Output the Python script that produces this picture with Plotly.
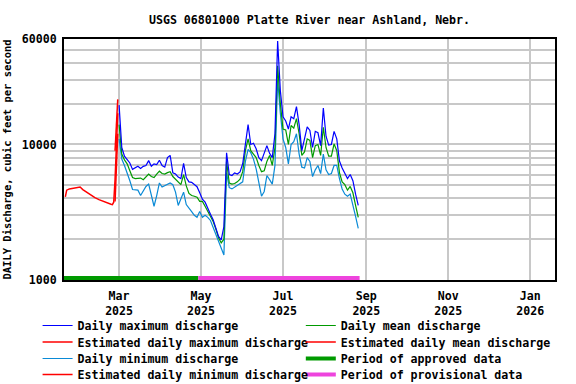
import pandas as pd
import plotly.graph_objects as go

TITLE = "USGS 06801000 Platte River near Ashland, Nebr."
Y_TITLE = "DAILY Discharge, cubic feet per second"

# daily values sampled every second day, 2025-03-01 .. 2025-08-26 (cfs)
sample_dates = pd.date_range("2025-03-01", "2025-08-26", freq="2D")

daily_max = [19500, 9500, 8200, 7800, 7300, 6550, 6700, 6900, 6650, 6900,
             7000, 7600, 6900, 7200, 7100, 7650, 7000, 6800, 8000, 8300,
             6170, 6050, 5750, 5600, 7250, 5700, 5300, 5250, 5060, 4880,
             4400, 3950, 3750, 3350, 3050, 2780, 2450, 2100, 1980, 2480,
             8680, 6000, 5900, 6170, 6050, 6270, 7200, 10500, 14000, 10000,
             10200, 9300, 8000, 7600, 8500, 9800, 8600, 8000, 12000, 58000,
             25000, 16000, 14900, 13000, 16000, 15500, 19000, 14000, 9000, 10800,
             13500, 12700, 9500, 12500, 12200, 9800, 18600, 11500, 9900, 10000,
             12500, 11000, 7550, 6700, 6150, 5600, 6000, 5400, 4300, 3550]

daily_mean = [14000, 8500, 7700, 7200, 6400, 5700, 5600, 5600, 5650, 5500,
              5750, 6050, 5800, 5700, 6050, 6350, 6100, 6050, 6200, 6300,
              5800, 5550, 5300, 5050, 6000, 4950, 4350, 4200, 4150, 4080,
              3800, 3800, 3500, 3200, 2950, 2700, 2380, 2050, 1880, 2000,
              7530, 5200, 5100, 5150, 5300, 5550, 6300, 9000, 11000, 9000,
              8500, 8000, 7000, 6300, 6400, 7500, 8300, 7000, 9500, 38000,
              20000, 13000, 12800, 10000, 13800, 13200, 15500, 12000, 8300, 8800,
              11000, 10700, 8000, 9800, 10000, 8300, 13400, 9500, 8200, 8200,
              10100, 9000, 6200, 5300, 5050, 4600, 4900, 4400, 3550, 2900]

daily_min = [11000, 7800, 7000, 6200, 5400, 4650, 4640, 4600, 4200, 4600,
             4900, 5100, 4300, 3500, 4200, 5200, 4850, 4950, 5100, 5200,
             5050, 4450, 3550, 3950, 4450, 3600, 3420, 3200, 3000, 2900,
             3200, 2900, 3000, 2900, 2750, 2450, 2170, 1950, 1700, 1530,
             6170, 4800, 4700, 4850, 4950, 5100, 5300, 7500, 9200, 8700,
             7800, 6600, 5200, 4150, 4500, 5900, 5500, 5100, 7000, 30000,
             17000, 11000, 9500, 7200, 10000, 10500, 12000, 8500, 6800, 6700,
             8000, 7500, 5800, 6500, 7000, 6100, 8500, 6500, 6000, 6100,
             7000, 7000, 5600, 4700, 4300, 4150, 4300, 3600, 2950, 2400]

# estimated (ice affected) daily mean, winter record
est_mean_dates = ["2025-01-20", "2025-01-21", "2025-01-23", "2025-01-26", "2025-01-29",
                  "2025-01-31", "2025-02-02", "2025-02-05", "2025-02-08", "2025-02-11",
                  "2025-02-14", "2025-02-17", "2025-02-20", "2025-02-23", "2025-02-24",
                  "2025-02-25", "2025-02-26", "2025-02-27", "2025-02-28"]
est_mean = [4100, 4600, 4700, 4750, 4850, 4850, 4650, 4450, 4200, 4050,
            3920, 3800, 3720, 3620, 3600, 3750, 5500, 11000, 17000]

est_ext_dates = ["2025-02-26", "2025-02-27", "2025-02-28"]
est_max = [9000, 16000, 21500]
est_min = [3800, 6000, 12000]

approved_period = ["2025-01-19", "2025-04-29"]
provisional_period = ["2025-04-29", "2025-08-27"]
PERIOD_Y = 1035

x_ticks = ["2025-03-01", "2025-05-01", "2025-07-01", "2025-09-01", "2025-11-01", "2026-01-01"]
x_labels = ["Mar<br>2025", "May<br>2025", "Jul<br>2025", "Sep<br>2025", "Nov<br>2025", "Jan<br>2026"]
y_ticks = [1000, 10000, 60000]
y_minor = [2000, 3000, 4000, 5000, 6000, 7000, 8000, 9000, 20000, 30000, 40000, 50000]

BLUE, GREEN, LTBLUE, RED, MAGENTA = "#0000ff", "#009a00", "#0a8ad6", "#ff0000", "#ee44dd"
FONT = "DejaVu Sans Mono"

# one single-entry legend per slot, so the rows can sit as tight as in the original
COL_X = [-0.0538, 0.4823]
ROW_Y = [-0.1286, -0.1971, -0.2656, -0.3324]


def line(x, y, name, color, width, legend):
    return go.Scatter(x=x, y=y, mode="lines", name=name, line=dict(color=color, width=width),
                      legend=legend)


fig = go.Figure()
# drawing order: period bars, min, mean, max, estimated
fig.add_trace(line(approved_period, [PERIOD_Y] * 2, "Period of approved data", GREEN, 4, "legend7"))
fig.add_trace(line(provisional_period, [PERIOD_Y] * 2, "Period of provisional data", MAGENTA, 4, "legend8"))
fig.add_trace(line(sample_dates, daily_min, "Daily minimum discharge", LTBLUE, 1.2, "legend3"))
fig.add_trace(line(sample_dates, daily_mean, "Daily mean discharge", GREEN, 1.2, "legend5"))
fig.add_trace(line(sample_dates, daily_max, "Daily maximum discharge", BLUE, 1.2, "legend"))
fig.add_trace(line(est_ext_dates, est_max, "Estimated daily maximum discharge", RED, 1.5, "legend2"))
fig.add_trace(line(est_mean_dates, est_mean, "Estimated daily mean discharge", RED, 1.5, "legend6"))
fig.add_trace(line(est_ext_dates, est_min, "Estimated daily minimum discharge", RED, 1.5, "legend4"))

legends = {}
for i in range(8):
    key = "legend" if i == 0 else f"legend{i + 1}"
    legends[key] = dict(x=COL_X[i // 4], y=ROW_Y[i % 4], xanchor="left", yanchor="top",
                        bgcolor="rgba(0,0,0,0)", font=dict(size=11.6))

fig.update_layout(
    width=576, height=384,
    paper_bgcolor="white", plot_bgcolor="white",
    font=dict(family=FONT, size=11.6, color="black", weight="bold"),
    title=dict(text=TITLE, x=0.5, xref="paper", xanchor="center",
               y=0.948, yref="container", yanchor="middle",
               font=dict(family=FONT, size=11.6, color="black", weight="bold")),
    margin=dict(l=64, r=21, t=39, b=104, autoexpand=False),
    showlegend=True,
    **legends,
)
fig.update_xaxes(
    range=["2025-01-19", "2026-01-19 10:00"],
    tickmode="array", tickvals=x_ticks, ticktext=x_labels,
    showgrid=True, gridcolor="#c8c8c8", gridwidth=1.5,
    showline=True, linecolor="black", linewidth=2, mirror=True,
    ticks="", zeroline=False, ticklabelstandoff=4,
)
fig.update_yaxes(
    type="log", range=[3, 4.7782],
    tickmode="array", tickvals=y_ticks, ticktext=[str(v) for v in y_ticks],
    showgrid=True, gridcolor="#c8c8c8", gridwidth=1.5,
    minor=dict(tickmode="array", tickvals=y_minor, showgrid=True,
               gridcolor="#c8c8c8", gridwidth=1.5, ticks=""),
    showline=True, linecolor="black", linewidth=2, mirror=True,
    ticks="", zeroline=False, ticklabelstandoff=3,
    title=dict(text=Y_TITLE, standoff=8, font=dict(size=10.5)),
)

# the page body keeps its default 8px margin otherwise, which shifts the figure
fig.write_html("out.html", config={"displayModeBar": False},
               post_script="document.body.style.margin='0';")
